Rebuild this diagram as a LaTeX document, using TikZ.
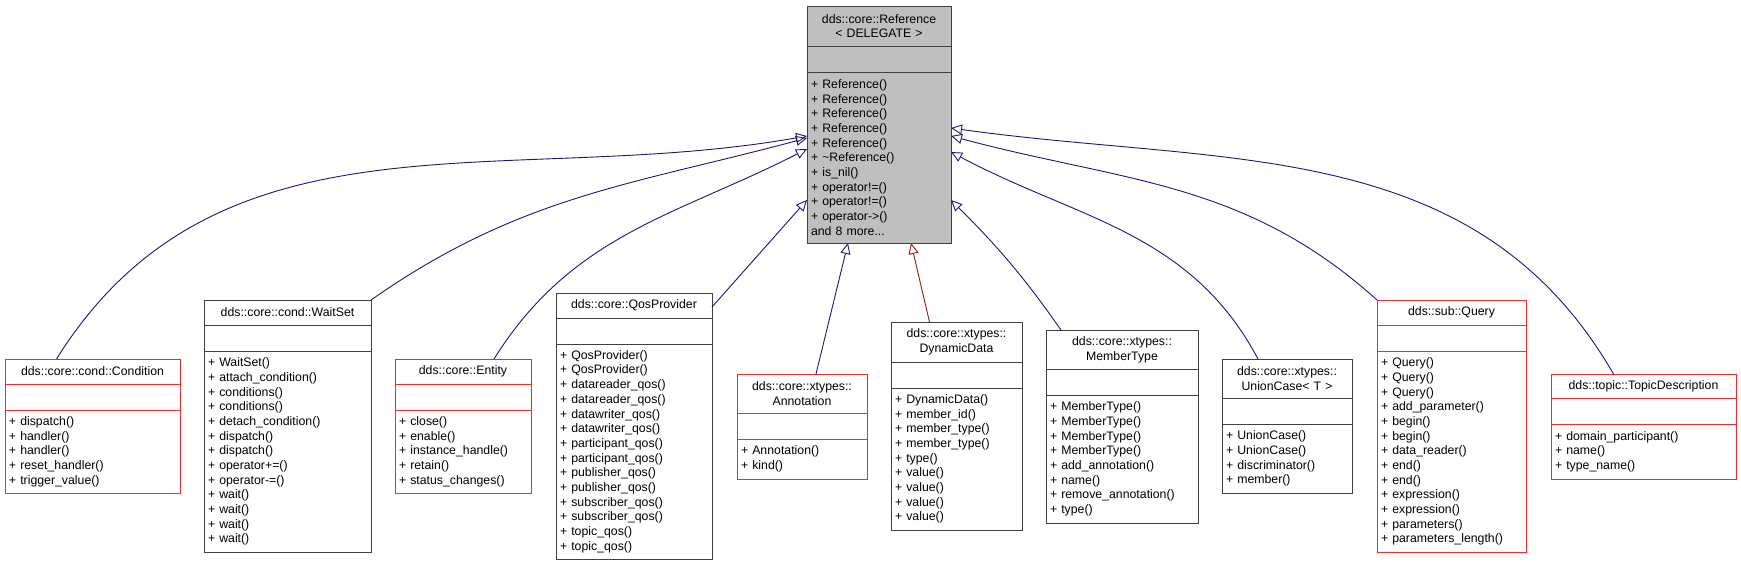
\documentclass[tikz,border=0pt]{standalone}
\usepackage{fontspec}
\setmainfont{Liberation Sans}
\usetikzlibrary{arrows.meta}
\definecolor{edgeblue}{HTML}{191970}
\definecolor{edgered}{HTML}{8B1A1A}
\definecolor{refgray}{HTML}{BFBFBF}

% one class box: name, left, top, width, title height, total height, style, title, members
\newcommand{\classbox}[9]{%
\node[part, #7, align=center, text width=#4pt-8pt, minimum height=#5pt, anchor=north west] (#1) at (#2,-#3) {#8};
\node[part, #7, minimum width=#4pt, minimum height=26pt, anchor=north] (#1-e) at (#1.south) {};
\node[part, #7, align=left, text width=#4pt-8pt, minimum height=#6pt-#5pt-26pt, anchor=north, inner ysep=5pt] (#1-m) at (#1-e.south) {\vphantom{Ag}#9\vfill};
}

\begin{document}
\begin{tikzpicture}[
x=1pt, y=1pt,
font=\fontsize{12.3}{14.67}\selectfont,
part/.style={draw=black!75, line width=1pt, inner xsep=4pt, inner ysep=3pt, outer sep=0pt},
redbox/.style={draw=red!85},
grayfill/.style={fill=refgray},
plainbox/.style={},
inherit/.style={edgeblue, line width=0.9pt, -{Triangle[open, length=11pt, width=10pt]}},
inheritred/.style={inherit, edgered}
]
\useasboundingbox (0,0) rectangle (1741,-565);

\classbox{ref}{807}{6}{144}{40}{237}{grayfill}{dds::core::Reference\\< DELEGATE >}{%
+ Reference()\\+ Reference()\\+ Reference()\\+ Reference()\\+ Reference()\\+ \textasciitilde Reference()\\+ is\_nil()\\+ operator!=()\\+ operator!=()\\+ operator->()\\and 8 more...}

\classbox{cond}{5}{359}{175}{25}{134}{redbox}{dds::core::cond::Condition}{%
+ dispatch()\\+ handler()\\+ handler()\\+ reset\_handler()\\+ trigger\_value()}

\classbox{waitset}{204}{300}{167}{25}{252}{plainbox}{dds::core::cond::WaitSet}{%
+ WaitSet()\\+ attach\_condition()\\+ conditions()\\+ conditions()\\+ detach\_condition()\\+ dispatch()\\+ dispatch()\\+ operator+=()\\+ operator-=()\\+ wait()\\+ wait()\\+ wait()\\+ wait()}

\classbox{entity}{395}{359}{136}{25}{134}{redbox}{dds::core::Entity}{%
+ close()\\+ enable()\\+ instance\_handle()\\+ retain()\\+ status\_changes()}

\classbox{qos}{556}{293}{156}{25}{266}{plainbox}{dds::core::QosProvider}{%
+ QosProvider()\\+ QosProvider()\\+ datareader\_qos()\\+ datareader\_qos()\\+ datawriter\_qos()\\+ datawriter\_qos()\\+ participant\_qos()\\+ participant\_qos()\\+ publisher\_qos()\\+ publisher\_qos()\\+ subscriber\_qos()\\+ subscriber\_qos()\\+ topic\_qos()\\+ topic\_qos()}

\classbox{annot}{737}{374}{130}{39}{105}{redbox}{dds::core::xtypes::\\Annotation}{%
+ Annotation()\\+ kind()}

\classbox{dyndata}{891}{322}{131}{40}{208}{plainbox}{dds::core::xtypes::\\DynamicData}{%
+ DynamicData()\\+ member\_id()\\+ member\_type()\\+ member\_type()\\+ type()\\+ value()\\+ value()\\+ value()\\+ value()}

\classbox{membertype}{1046}{330}{152}{39}{193}{plainbox}{dds::core::xtypes::\\MemberType}{%
+ MemberType()\\+ MemberType()\\+ MemberType()\\+ MemberType()\\+ add\_annotation()\\+ name()\\+ remove\_annotation()\\+ type()}

\classbox{unioncase}{1222}{359}{130}{39}{134}{plainbox}{dds::core::xtypes::\\UnionCase< T >}{%
+ UnionCase()\\+ UnionCase()\\+ discriminator()\\+ member()}

\classbox{query}{1377}{300}{149}{25}{252}{redbox}{dds::sub::Query}{%
+ Query()\\+ Query()\\+ Query()\\+ add\_parameter()\\+ begin()\\+ begin()\\+ data\_reader()\\+ end()\\+ end()\\+ expression()\\+ expression()\\+ parameters()\\+ parameters\_length()}

\classbox{topicdesc}{1551}{374}{185}{24}{105}{redbox}{dds::topic::TopicDescription}{%
+ domain\_participant()\\+ name()\\+ type\_name()}

% arrow ends on the reference box
\coordinate (refL1) at (807,-136);
\coordinate (refL2) at (807,-138);
\coordinate (refL3) at (807,-149);
\coordinate (refL4) at (807,-200);
\coordinate (refB1) at (848,-243);
\coordinate (refB2) at (911,-243);
\coordinate (refR1) at (951,-200);
\coordinate (refR2) at (951,-152);
\coordinate (refR3) at (951,-136);
\coordinate (refR4) at (951,-128);
\coordinate (qosR) at (712,-307);

\draw[inherit] (cond.north) ++(-36,0) to[out=58, in=190] (refL1);
\draw[inherit] (waitset.north east) to[out=35, in=195] (refL2);
\draw[inherit] (entity.north) ++(31,0) to[out=58, in=207] (refL3);
\draw[inherit] (qosR) -- (refL4);
\draw[inherit] (annot.north) ++(14,0) -- (refB1);
\draw[inheritred] (dyndata.north) ++(-27,0) -- (refB2);
\draw[inherit] (membertype.north) ++(-61,0) to[out=125, in=-45] (refR1);
\draw[inherit] (unioncase.north) ++(-29,0) to[out=118, in=-28] (refR2);
\draw[inherit] (query.north west) to[out=138, in=-15] (refR3);
\draw[inherit] (topicdesc.north) ++(-30,0) to[out=120, in=-8] (refR4);
\end{tikzpicture}
\end{document}
